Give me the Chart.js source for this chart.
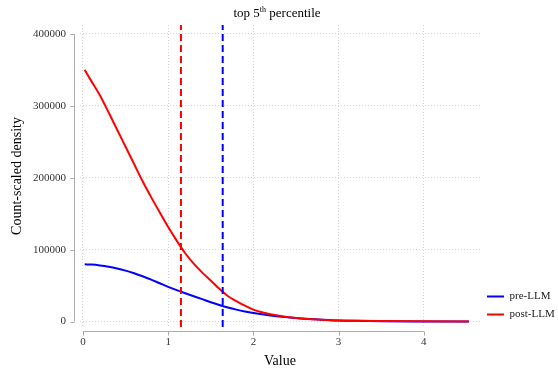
<!doctype html>
<html>
<head>
<meta charset="utf-8">
<title>top 5th percentile</title>
<script src="https://cdn.jsdelivr.net/npm/chart.js@4/dist/chart.umd.min.js"></script>
<style>
  html, body { margin: 0; padding: 0; background: #fff; }
  #box { width: 558px; height: 373px; }
</style>
</head>
<body>
<div id="box"><canvas id="chart"></canvas></div>
<script>
// values
var xValues = [0.02, 0.1, 0.2, 0.3, 0.4, 0.5, 0.6, 0.7, 0.8, 0.9, 1.0, 1.1, 1.2, 1.3, 1.4, 1.5, 1.6, 1.7, 1.8, 1.9,
               2.0, 2.1, 2.2, 2.3, 2.4, 2.5, 2.6, 2.7, 2.8, 2.9, 3.0, 3.2, 3.5, 4.0, 4.53];
var preLLM = [79500, 79200, 78000, 76200, 73800, 70800, 67200, 63000, 58300, 53300, 48300, 43600, 39300, 35200, 31100,
              26900, 23000, 19600, 16600, 14000, 11800, 10000, 8400, 7000, 5800, 4800, 4000, 3300, 2600, 2000,
              1500, 1000, 500, 200, 100];
var postLLM = [350000, 334000, 314500, 291000, 267000, 243000, 219000, 195000, 173000, 152000, 131500, 112500, 95000,
               80500, 68000, 57000, 45500, 35500, 28500, 22000, 16500, 12800, 10000, 8000, 6300, 5000, 3900, 3100,
               2400, 1900, 1500, 1000, 600, 300, 200];
var cutoffs = [1.15, 1.64];   // post-LLM, pre-LLM (95th percentile)
var xTicks = [0, 1, 2, 3, 4];
var yTicks = [0, 100000, 200000, 300000, 400000];

var xMin = -0.035, xMax = 4.66;
var yMin = -7600, yMax = 412400;
var serif = "'Liberation Serif', 'DejaVu Serif', serif";

function pts(ys) {
    return xValues.map(function (x, i) { return {x: x, y: ys[i]}; });
}
function vline(x) {
    return [{x: x, y: yMin}, {x: x, y: yMax}];
}

// ggplot-ish range frame axes + title with superscript
var decor = {
    id: 'decor',
    afterLayout: function (chart) {
        // legend sits at the bottom of the panel, not of the canvas
        if (chart.legend) chart.legend.bottom = chart.chartArea.bottom;
    },
    afterDraw: function (chart) {
        var c = chart.ctx, a = chart.chartArea;
        var xs = chart.scales.x, ys = chart.scales.y;
        c.save();
        c.strokeStyle = '#ababab';
        c.lineWidth = 1;
        var lx = a.left - 5.5;
        var by = a.bottom + 4.5;
        c.beginPath();
        c.moveTo(lx, ys.getPixelForValue(yTicks[0]));
        c.lineTo(lx, ys.getPixelForValue(yTicks[yTicks.length - 1]));
        yTicks.forEach(function (v) {
            var p = Math.round(ys.getPixelForValue(v)) + 0.5;
            c.moveTo(lx - 4, p); c.lineTo(lx, p);
        });
        c.moveTo(xs.getPixelForValue(xTicks[0]), by);
        c.lineTo(xs.getPixelForValue(xTicks[xTicks.length - 1]), by);
        xTicks.forEach(function (v) {
            var p = Math.round(xs.getPixelForValue(v)) + 0.5;
            c.moveTo(p, by); c.lineTo(p, by + 4);
        });
        c.stroke();

        // title
        c.fillStyle = '#000';
        c.textBaseline = 'alphabetic';
        c.font = '13px ' + serif;
        var t1 = 'top 5', t3 = ' percentile';
        var w1 = c.measureText(t1).width, w3 = c.measureText(t3).width;
        c.font = '8px ' + serif;
        var w2 = c.measureText('th').width;
        var x0 = (a.left + a.right) / 2 - (w1 + w2 + w3) / 2 - 3;
        c.font = '13px ' + serif;
        c.fillText(t1, x0, 17);
        c.font = '8px ' + serif;
        c.fillText('th', x0 + w1, 12);
        c.font = '13px ' + serif;
        c.fillText(t3, x0 + w1 + w2, 17);
        c.restore();
    }
};

new Chart(document.getElementById('chart'), {
    type: 'line',
    data: {
        datasets: [
            {label: 'post cutoff', data: vline(cutoffs[0]), borderColor: '#ff0000', borderWidth: 2, borderDash: [7, 4]},
            {label: 'pre cutoff', data: vline(cutoffs[1]), borderColor: '#0000ff', borderWidth: 2, borderDash: [7, 4]},
            {label: 'post-LLM', data: pts(postLLM), borderColor: '#ff0000', backgroundColor: '#ff0000', borderWidth: 2,
             cubicInterpolationMode: 'monotone'},
            {label: 'pre-LLM', data: pts(preLLM), borderColor: '#0000ff', backgroundColor: '#0000ff', borderWidth: 2,
             cubicInterpolationMode: 'monotone'}
        ]
    },
    options: {
        responsive: true,
        maintainAspectRatio: false,
        animation: false,
        layout: {padding: {top: 25, left: 0, right: 0, bottom: 0}},
        elements: {point: {radius: 0}, line: {fill: false}},
        plugins: {
            title: {display: false},
            tooltip: {enabled: false},
            legend: {
                position: 'right',
                align: 'end',
                maxWidth: 78,
                labels: {
                    usePointStyle: true,
                    pointStyle: 'line',
                    pointStyleWidth: 17,
                    boxWidth: 17,
                    padding: 7,
                    color: '#1a1a1a',
                    font: {family: serif, size: 11},
                    filter: function (item) { return item.datasetIndex >= 2; },
                    sort: function (a, b) { return b.datasetIndex - a.datasetIndex; }
                }
            }
        },
        scales: {
            x: {
                type: 'linear',
                min: xMin,
                max: xMax,
                afterFit: function (s) { s.height = 46; },
                afterBuildTicks: function (s) { s.ticks = xTicks.map(function (v) { return {value: v}; }); },
                grid: {color: '#d4d4d4', drawTicks: false},
                border: {display: false, dash: [1, 2]},
                ticks: {
                    padding: 9,
                    color: '#333',
                    font: {family: serif, size: 11}
                },
                title: {display: true, text: 'Value', color: '#000', font: {family: serif, size: 14},
                        padding: {top: 0, bottom: 3}}
            },
            y: {
                min: yMin,
                max: yMax,
                afterFit: function (s) { s.width = 80; },
                afterBuildTicks: function (s) { s.ticks = yTicks.map(function (v) { return {value: v}; }); },
                grid: {color: '#d4d4d4', drawTicks: false},
                border: {display: false, dash: [1, 2]},
                ticks: {
                    padding: 14,
                    color: '#333',
                    font: {family: serif, size: 11},
                    callback: function (v) { return String(v); }
                },
                title: {display: true, text: 'Count-scaled density', color: '#000', font: {family: serif, size: 14},
                        padding: {top: 9, bottom: 0}}
            }
        }
    },
    plugins: [decor]
});
</script>
</body>
</html>
